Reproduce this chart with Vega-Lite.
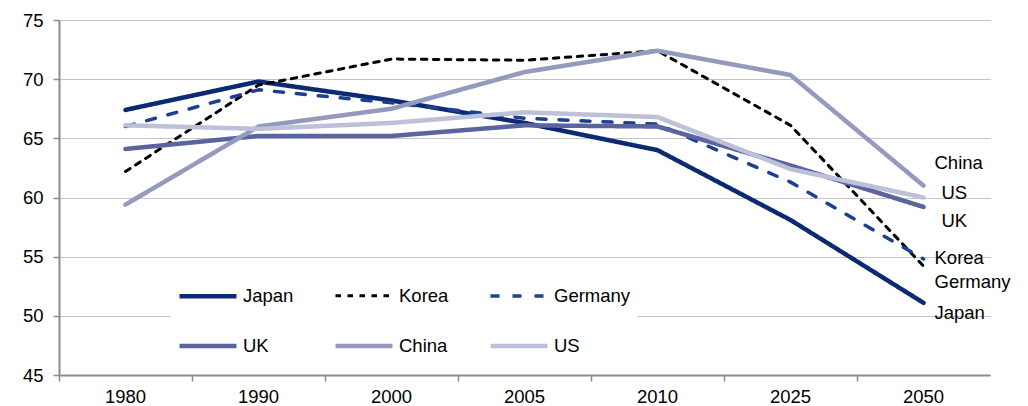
{
  "$schema": "https://vega.github.io/schema/vega-lite/v6.json",
  "width": 931,
  "height": 355,
  "autosize": {"type": "none"},
  "padding": {"left": 59, "top": 20, "right": 38, "bottom": 31},
  "background": "white",
  "config": {
    "view": {"stroke": null},
    "font": "Liberation Sans",
    "axis": {"labelFont": "Liberation Sans", "labelFontSize": 18.5, "labelColor": "#000000", "titleFont": "Liberation Sans"},
    "legend": {"labelFont": "Liberation Sans"}
  },
  "datasets": {
    "series": [
      {"country": "Japan", "year": "1980", "value": 67.4},
      {"country": "Japan", "year": "1990", "value": 69.8},
      {"country": "Japan", "year": "2000", "value": 68.2},
      {"country": "Japan", "year": "2005", "value": 66.3},
      {"country": "Japan", "year": "2010", "value": 64.0},
      {"country": "Japan", "year": "2025", "value": 58.1},
      {"country": "Japan", "year": "2050", "value": 51.1},
      {"country": "Korea", "year": "1980", "value": 62.2},
      {"country": "Korea", "year": "1990", "value": 69.5},
      {"country": "Korea", "year": "2000", "value": 71.7},
      {"country": "Korea", "year": "2005", "value": 71.6},
      {"country": "Korea", "year": "2010", "value": 72.4},
      {"country": "Korea", "year": "2025", "value": 66.1},
      {"country": "Korea", "year": "2050", "value": 54.2},
      {"country": "Germany", "year": "1980", "value": 66.0},
      {"country": "Germany", "year": "1990", "value": 69.1},
      {"country": "Germany", "year": "2000", "value": 68.0},
      {"country": "Germany", "year": "2005", "value": 66.7},
      {"country": "Germany", "year": "2010", "value": 66.2},
      {"country": "Germany", "year": "2025", "value": 61.3},
      {"country": "Germany", "year": "2050", "value": 54.8},
      {"country": "UK", "year": "1980", "value": 64.1},
      {"country": "UK", "year": "1990", "value": 65.2},
      {"country": "UK", "year": "2000", "value": 65.2},
      {"country": "UK", "year": "2005", "value": 66.1},
      {"country": "UK", "year": "2010", "value": 66.0},
      {"country": "UK", "year": "2025", "value": 62.7},
      {"country": "UK", "year": "2050", "value": 59.2},
      {"country": "China", "year": "1980", "value": 59.4},
      {"country": "China", "year": "1990", "value": 66.0},
      {"country": "China", "year": "2000", "value": 67.5},
      {"country": "China", "year": "2005", "value": 70.6},
      {"country": "China", "year": "2010", "value": 72.4},
      {"country": "China", "year": "2025", "value": 70.35},
      {"country": "China", "year": "2050", "value": 61.0},
      {"country": "US", "year": "1980", "value": 66.1},
      {"country": "US", "year": "1990", "value": 65.8},
      {"country": "US", "year": "2000", "value": 66.3},
      {"country": "US", "year": "2005", "value": 67.2},
      {"country": "US", "year": "2010", "value": 66.8},
      {"country": "US", "year": "2025", "value": 62.4},
      {"country": "US", "year": "2050", "value": 60.0}
    ],
    "labels": [
      {"country": "China", "year": "2050", "labelValue": 62.9, "group": "a"},
      {"country": "US", "year": "2050", "labelValue": 60.4, "group": "b"},
      {"country": "UK", "year": "2050", "labelValue": 58.0, "group": "b"},
      {"country": "Korea", "year": "2050", "labelValue": 54.9, "group": "a"},
      {"country": "Germany", "year": "2050", "labelValue": 52.9, "group": "a"},
      {"country": "Japan", "year": "2050", "labelValue": 50.2, "group": "a"}
    ]
  },
  "layer": [
    {
      "data": {"name": "series"},
      "mark": {"type": "line", "strokeCap": "round", "strokeJoin": "round"},
      "encoding": {
        "x": {
          "field": "year", "type": "ordinal",
          "scale": {"type": "band", "paddingInner": 0, "paddingOuter": 0},
          "axis": {"title": null, "labelAngle": 0, "bandPosition": 0, "grid": false, "domainColor": "#8c8c8c", "domainWidth": 2, "tickColor": "#8c8c8c", "tickWidth": 1.5, "tickSize": 6, "labelPadding": 6}
        },
        "y": {
          "field": "value", "type": "quantitative",
          "scale": {"domain": [45, 75], "nice": false, "zero": false},
          "axis": {"title": null, "values": [45, 50, 55, 60, 65, 70, 75], "grid": true, "gridDash": [1, 1], "gridColor": "#8a8a8a", "gridWidth": 1, "domainColor": "#8c8c8c", "domainWidth": 2, "tickColor": "#8c8c8c", "tickWidth": 1.5, "tickSize": 6, "labelPadding": 10}
        },
        "color": {
          "field": "country", "type": "nominal",
          "scale": {"domain": ["Japan", "Korea", "Germany", "UK", "China", "US"], "range": ["#0c2a72", "#000000", "#1b3f92", "#5a65a0", "#9499be", "#bcc0d8"]},
          "legend": {
            "title": null, "orient": "none", "legendX": 111, "legendY": 238, "columns": 3, "direction": "horizontal",
            "symbolType": "stroke", "symbolSize": 3249, "labelFontSize": 18.5, "labelColor": "#000000", "labelOffset": 4,
            "columnPadding": 32, "rowPadding": 9, "fillColor": "white", "padding": 7, "labelLimit": 200
          }
        },
        "strokeDash": {
          "field": "country", "type": "nominal",
          "scale": {"domain": ["Japan", "Korea", "Germany", "UK", "China", "US"], "range": [[1, 0], [5.5, 6.5], [9, 13], [1, 0], [1, 0], [1, 0]]},
          "legend": {
            "title": null, "orient": "none", "legendX": 111, "legendY": 238, "columns": 3, "direction": "horizontal",
            "symbolType": "stroke", "symbolSize": 3249, "labelFontSize": 18.5, "labelColor": "#000000", "labelOffset": 4,
            "columnPadding": 32, "rowPadding": 9, "fillColor": "white", "padding": 7, "labelLimit": 200
          }
        },
        "strokeWidth": {
          "field": "country", "type": "nominal",
          "scale": {"type": "ordinal", "domain": ["Japan", "Korea", "Germany", "UK", "China", "US"], "range": [4.5, 3, 3.5, 4.5, 4.5, 4.5]},
          "legend": {
            "title": null, "orient": "none", "legendX": 111, "legendY": 238, "columns": 3, "direction": "horizontal",
            "symbolType": "stroke", "symbolSize": 3249, "labelFontSize": 18.5, "labelColor": "#000000", "labelOffset": 4,
            "columnPadding": 32, "rowPadding": 9, "fillColor": "white", "padding": 7, "labelLimit": 200
          }
        }
      }
    },
    {
      "data": {"name": "labels"},
      "transform": [{"filter": "datum.group == 'a'"}],
      "mark": {"type": "text", "align": "left", "baseline": "middle", "dx": 11, "fontSize": 18.5, "font": "Liberation Sans", "color": "#000000"},
      "encoding": {
        "x": {"field": "year", "type": "ordinal"},
        "y": {"field": "labelValue", "type": "quantitative"},
        "text": {"field": "country"}
      }
    },
    {
      "data": {"name": "labels"},
      "transform": [{"filter": "datum.group == 'b'"}],
      "mark": {"type": "text", "align": "left", "baseline": "middle", "dx": 18, "fontSize": 18.5, "font": "Liberation Sans", "color": "#000000"},
      "encoding": {
        "x": {"field": "year", "type": "ordinal"},
        "y": {"field": "labelValue", "type": "quantitative"},
        "text": {"field": "country"}
      }
    }
  ]
}
